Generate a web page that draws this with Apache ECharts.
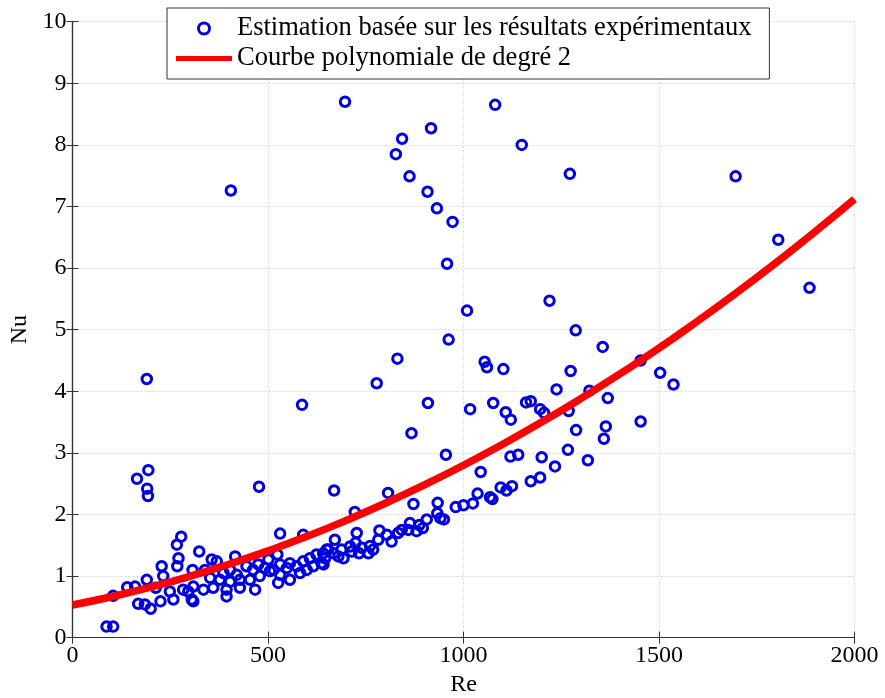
<!DOCTYPE html>
<html>
<head>
<meta charset="utf-8">
<script src="https://cdn.jsdelivr.net/npm/echarts@6/dist/echarts.min.js"></script>
<style>
html,body{margin:0;padding:0;background:#fff;}
#chart{width:885px;height:698px;}
</style>
</head>
<body>
<div id="chart"></div>
<script>
var seriesNames = ['Estimation basée sur les résultats expérimentaux', 'Courbe polynomiale de degré 2'];
var xTicks = [0, 500, 1000, 1500, 2000];
var yTicks = [0, 1, 2, 3, 4, 5, 6, 7, 8, 9, 10];

// Re values of the measured points
var measuredRe = [
  190,165,194,191,193,405,587,477,669,697,
  1081,917,843,827,862,908,932,972,958,1009,962,831,1054,1149,1272,1696,1805,1885,1220,1287,1356,
  778,1060,1102,1274,1238,1322,1369,909,1017,1076,1108,1121,1160,1172,1196,1206,1269,1288,1364,1359,
  867,955,1120,1140,1200,1267,1318,1234,1044,1172,1196,807,1036,1095,1110,1124,1068,1074,872,934,980,1000,1024,
  1453,1503,1537,1453,
  722,933,941,950,906,887,896,880,863,859,842,833,816,804,785,782,727,724,671,650,761,769,757,710,714,740,733,688,693,680,646,642,668,
  324,416,531,590,524,356,369,339,386,403,420,445,462,475,492,501,514,531,548,556,573,590,607,624,641,654,
  335,360,394,428,454,309,394,467,526,556,582,599,616,637,352,377,403,428,479,505,531,
  87,104,104,140,160,190,168,185,200,228,232,213,225,249,258,268,271,267,278,283,296,305,307,309
];
// Nu values of the measured points
var measuredNu = [
  4.20,2.58,2.72,2.42,2.30,7.26,3.78,2.45,2.39,8.70,
  8.65,8.27,8.10,7.85,7.49,7.24,6.97,6.75,6.07,5.31,4.84,4.53,4.48,8.00,7.53,7.49,6.46,5.68,5.47,4.99,4.72,
  4.13,4.39,4.36,4.33,4.03,4.01,3.89,3.81,3.71,3.81,3.66,3.54,3.82,3.84,3.71,3.65,3.68,3.37,3.43,3.23,
  3.32,2.97,2.94,2.97,2.93,3.05,2.88,2.78,2.69,2.54,2.60,2.35,2.34,2.44,2.39,2.46,2.28,2.25,2.17,2.19,2.12,2.15,2.18,
  4.50,4.30,4.11,3.51,
  2.04,2.02,1.94,1.92,1.92,1.83,1.78,1.73,1.86,1.75,1.75,1.70,1.56,1.67,1.74,1.59,1.70,1.54,1.59,1.43,1.49,1.43,1.37,1.48,1.40,1.46,1.37,1.43,1.29,1.32,1.29,1.19,1.37,
  1.40,1.32,1.69,1.67,1.35,1.27,1.24,1.10,1.05,1.10,1.02,1.16,1.10,1.19,1.13,1.27,1.10,1.19,1.13,1.21,1.16,1.24,1.29,1.35,1.37,1.43,
  0.78,0.81,0.78,0.81,0.94,0.83,0.67,0.78,0.89,0.94,1.05,1.10,1.16,1.21,0.97,0.94,0.91,0.94,1.00,1.08,1.02,
  0.18,0.18,0.68,0.82,0.83,0.94,0.55,0.54,0.47,1.16,1.00,0.81,0.59,0.75,0.62,1.16,1.29,1.51,1.64,0.78,0.75,0.62,1.10,0.59
];
// Fitted curve
var curveRe = [0,100,200,300,400,500,600,700,800,900,1000,1100,1200,1300,1400,1500,1600,1700,1800,1900,2000];
var curveNu = [0.53,0.665,0.82,0.996,1.192,1.41,1.646,1.904,2.182,2.481,2.80,3.14,3.50,3.881,4.282,4.70,5.146,5.609,6.092,6.596,7.12];

var scatterData = measuredRe.map(function(r, i){ return [r, measuredNu[i]]; });
var curveData = curveRe.map(function(r, i){ return [r, curveNu[i]]; });

var FONT = 'Liberation Serif';
var BLUE = '#0000e0';
var chart = echarts.init(document.getElementById('chart'), null, {renderer: 'canvas'});
var splitStyle = {show: true, lineStyle: {color: '#d8d8d8', type: [2, 2], width: 1}};
var axisLineStyle = {show: true, lineStyle: {color: '#333', width: 1.2}};
var plain = function(v){ return String(v); };
chart.setOption({
  animation: false,
  backgroundColor: '#fff',
  grid: {left: 72.5, right: 30.5, top: 21.7, bottom: 60.3, containLabel: false, outerBoundsMode: 'none'},
  legend: {
    orient: 'vertical',
    left: 167, top: 8,
    itemWidth: 56, itemHeight: 11,
    itemGap: 3,
    padding: [7, 18, 7, 9],
    backgroundColor: '#fff',
    borderColor: '#333', borderWidth: 1, borderRadius: 0,
    textStyle: {fontFamily: FONT, fontSize: 26.5, color: '#000'},
    data: [
      {name: seriesNames[0], icon: 'circle', itemStyle: {color: 'rgba(0,0,0,0)', borderColor: BLUE, borderWidth: 3}},
      {name: seriesNames[1], icon: 'path://M0,0H56V5H0Z', itemStyle: {color: '#ff0000', borderWidth: 0}}
    ]
  },
  xAxis: [{
    type: 'value', min: 0, max: 2000, interval: 500,
    name: 'Re', nameLocation: 'middle', nameGap: 34,
    nameTextStyle: {fontFamily: FONT, fontSize: 24, color: '#000'},
    axisLine: axisLineStyle,
    axisTick: {show: true, inside: true, length: 6, lineStyle: {color: '#333'}},
    axisLabel: {fontFamily: FONT, fontSize: 24, color: '#000', margin: 6, formatter: plain},
    splitLine: splitStyle
  }, {
    type: 'value', min: 0, max: 2000, interval: 500, position: 'top',
    axisLine: axisLineStyle,
    axisTick: {show: true, inside: true, length: 6, lineStyle: {color: '#333'}},
    axisLabel: {show: false}, splitLine: {show: false}
  }],
  yAxis: [{
    type: 'value', min: 0, max: 10, interval: 1,
    name: 'Nu', nameLocation: 'middle', nameGap: 40,
    nameTextStyle: {fontFamily: FONT, fontSize: 24, color: '#000'},
    axisLine: axisLineStyle,
    axisTick: {show: true, inside: true, length: 6, lineStyle: {color: '#333'}},
    axisLabel: {fontFamily: FONT, fontSize: 24, color: '#000', margin: 6, formatter: plain},
    splitLine: splitStyle
  }, {
    type: 'value', min: 0, max: 10, interval: 1, position: 'right',
    axisLine: axisLineStyle,
    axisTick: {show: true, inside: true, length: 6, lineStyle: {color: '#333'}},
    axisLabel: {show: false}, splitLine: {show: false}
  }],
  series: [{
    name: seriesNames[0],
    type: 'scatter',
    data: scatterData,
    symbol: 'circle',
    symbolSize: 9.5,
    itemStyle: {color: 'rgba(0,0,0,0)', borderColor: BLUE, borderWidth: 3, opacity: 1},
    z: 2
  }, {
    name: seriesNames[1],
    type: 'line',
    data: curveData,
    smooth: true,
    showSymbol: false,
    symbol: 'none',
    lineStyle: {color: '#ff0000', width: 7.5},
    itemStyle: {color: '#ff0000'},
    z: 3
  }]
});
</script>
</body>
</html>
